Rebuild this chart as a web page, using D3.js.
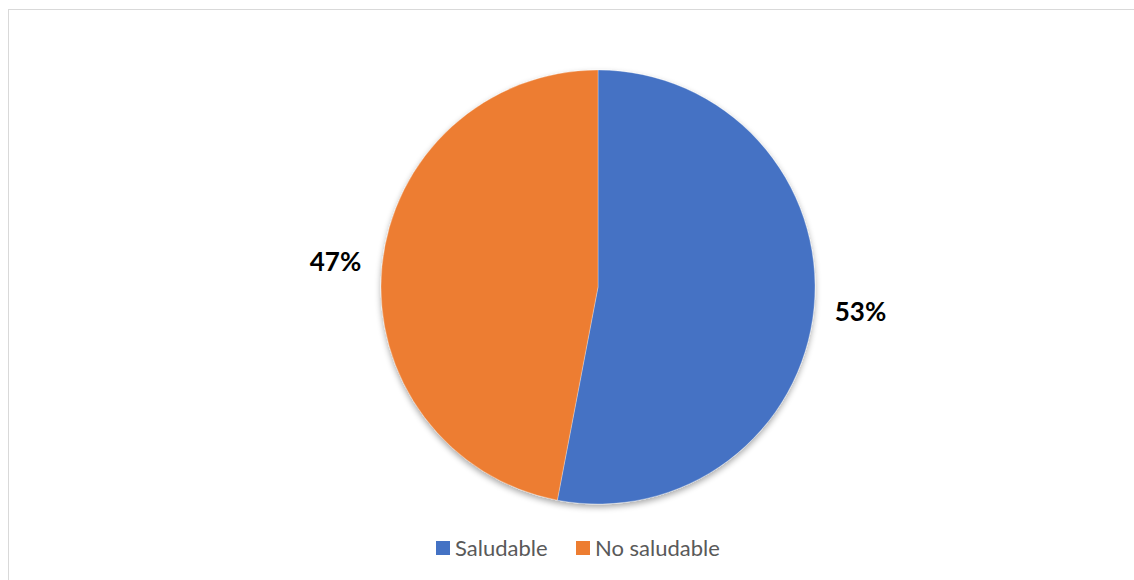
<!DOCTYPE html>
<html>
<head>
<meta charset="utf-8">
<script src="https://cdn.jsdelivr.net/npm/d3@7"></script>
<style>
  body { margin: 0; background: #fff; }
  svg { display: block; }
</style>
</head>
<body>
<div id="wrapper"></div>
<script>
// data
const categories = ["Saludable", "No saludable"];
const values = [53, 47];
const labels = ["53%", "47%"];
const colors = ["#4472C4", "#ED7D31"];

function drawPie() {
  const dms = { width: 1134, height: 580 };
  const cx = 598, cy = 287, radius = 217;

  const svg = d3.select("#wrapper")
    .append("svg")
      .attr("width", dms.width)
      .attr("height", dms.height);

  // chart frame (only top and left edges visible)
  svg.append("rect")
    .attr("x", 8.5).attr("y", 9.5)
    .attr("width", 1140).attr("height", 600)
    .attr("fill", "none")
    .attr("stroke", "#d9d9d9");

  const defs = svg.append("defs");
  const shadow = defs.append("filter")
    .attr("id", "shadow")
    .attr("x", "-20%").attr("y", "-20%")
    .attr("width", "140%").attr("height", "140%");
  shadow.append("feGaussianBlur").attr("in", "SourceAlpha").attr("stdDeviation", 3);
  shadow.append("feOffset").attr("dy", 3).attr("result", "blur");
  shadow.append("feComponentTransfer")
    .append("feFuncA").attr("type", "linear").attr("slope", 0.35);
  const merge = shadow.append("feMerge");
  merge.append("feMergeNode");
  merge.append("feMergeNode").attr("in", "SourceGraphic");

  const pie = d3.pie().sort(null).value(d => d);
  const arcs = pie(values);

  const arc = d3.arc().innerRadius(0).outerRadius(radius);
  const labelArc = d3.arc().innerRadius(radius * 1.215).outerRadius(radius * 1.215);

  const g = svg.append("g")
    .attr("transform", `translate(${cx},${cy})`);

  g.append("g")
    .attr("filter", "url(#shadow)")
    .selectAll("path")
    .data(arcs)
    .join("path")
      .attr("d", arc)
      .attr("fill", (d, i) => colors[i])
      .attr("stroke", "#fff")
      .attr("stroke-width", 0.3);

  g.selectAll("text.pct")
    .data(arcs)
    .join("text")
      .attr("class", "pct")
      .attr("transform", d => `translate(${labelArc.centroid(d)})`)
      .attr("text-anchor", "middle")
      .attr("dy", "0.35em")
      .attr("font-family", "Lato, 'Open Sans', sans-serif")
      .attr("font-weight", "bold")
      .attr("font-size", 26)
      .attr("fill", "#000")
      .text((d, i) => labels[i]);

  // legend
  const legendX = [436, 576];
  const legend = svg.append("g");
  const items = legend.selectAll("g")
    .data(categories)
    .join("g")
      .attr("transform", (d, i) => `translate(${legendX[i]},541)`);
  items.append("rect")
    .attr("width", 14).attr("height", 14)
    .attr("fill", (d, i) => colors[i]);
  items.append("text")
    .attr("x", 19).attr("y", 7)
    .attr("dy", "0.35em")
    .attr("font-family", "Lato, 'Open Sans', sans-serif")
    .attr("font-size", 22)
    .attr("fill", "#595959")
    .text(d => d);
}

drawPie();
</script>
</body>
</html>
